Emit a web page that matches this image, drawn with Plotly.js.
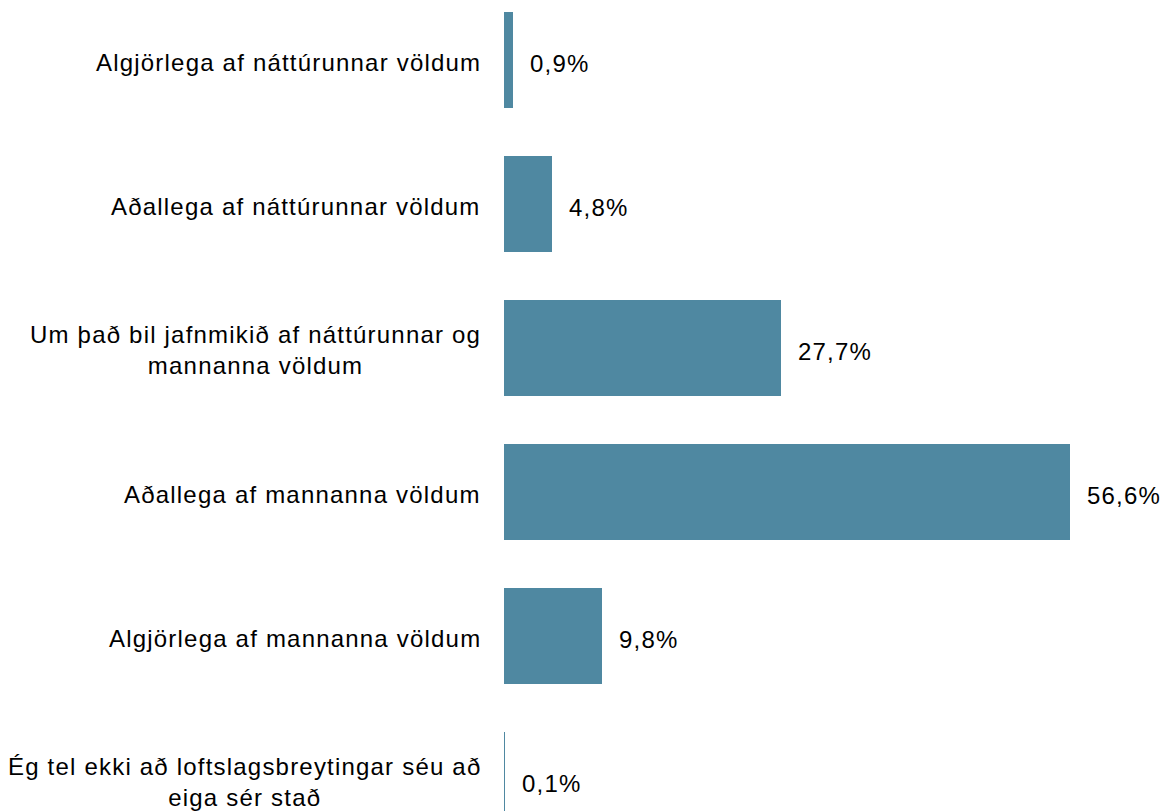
<!DOCTYPE html>
<html>
<head>
<meta charset="utf-8">
<script src="https://cdn.plot.ly/plotly-3.0.1.min.js"></script>
<style>
  html, body { margin: 0; padding: 0; background: #fff; }
  #chart { width: 1167px; height: 811px; }
  svg text { letter-spacing: 1.2px; }
</style>
</head>
<body>
<div id="chart"></div>
<script>
const categories = [
  "Algjörlega af náttúrunnar völdum",
  "Aðallega af náttúrunnar völdum",
  "Um það bil jafnmikið af náttúrunnar og<br>mannanna völdum",
  "Aðallega af mannanna völdum",
  "Algjörlega af mannanna völdum",
  "Ég tel ekki að loftslagsbreytingar séu að<br>eiga sér stað"
];
const values = [0.9, 4.8, 27.7, 56.6, 9.8, 0.1];
const valueLabels = ["0,9%", "4,8%", "27,7%", "56,6%", "9,8%", "0,1%"];

const fontFamily = '"Liberation Sans", Arial, sans-serif';
const idx = categories.map((_, i) => i);

const trace = {
  type: 'bar',
  orientation: 'h',
  x: values,
  y: idx,
  marker: { color: '#4f88a1', line: { width: 0 } },
  hoverinfo: 'skip'
};

const annotations = [];
categories.forEach((c, i) => {
  annotations.push({
    x: 0, y: i, xref: 'x', yref: 'y',
    text: c, showarrow: false,
    xanchor: 'right', yanchor: 'middle', align: 'center',
    xshift: -21, yshift: -2,
    font: { family: fontFamily, size: 24, color: '#000' }
  });
  annotations.push({
    x: values[i], y: i, xref: 'x', yref: 'y',
    text: valueLabels[i], showarrow: false,
    xanchor: 'left', yanchor: 'middle',
    xshift: 15, yshift: -3,
    font: { family: fontFamily, size: 24, color: '#000' }
  });
});

const layout = {
  width: 1167, height: 811,
  margin: { l: 504, r: 0, t: 0, b: 0 },
  paper_bgcolor: '#fff', plot_bgcolor: '#fff',
  showlegend: false,
  bargap: 0.333,
  xaxis: { range: [0, 66.3], visible: false, fixedrange: true },
  yaxis: { range: [5.215, -0.4167], visible: false, fixedrange: true },
  annotations: annotations,
  font: { family: fontFamily, size: 24, color: '#000' }
};

Plotly.newPlot('chart', [trace], layout, { displayModeBar: false, staticPlot: true });
</script>
</body>
</html>
